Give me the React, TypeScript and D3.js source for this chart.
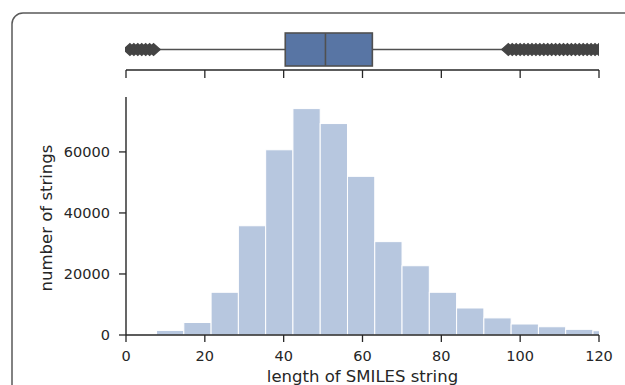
import { useMemo } from 'react';
import * as d3 from 'd3';

// histogram of SMILES string lengths (bin edges + counts)
const binEdges = [7.75, 14.67, 21.59, 28.51, 35.43, 42.35, 49.27, 56.19, 63.11, 70.03, 76.95, 83.87, 90.79, 97.71, 104.63, 111.55, 118.47, 125.39];
const binCounts = [1500, 4100, 14000, 35800, 60700, 74200, 69300, 52000, 30600, 22700, 14000, 8850, 5600, 3600, 2700, 1850, 1400];

const xTicks = [0, 20, 40, 60, 80, 100, 120];
const yTicks = [0, 20000, 40000, 60000];

// boxplot summary
const boxStats = { whiskerLow: 8, q1: 40.4, median: 50.6, q3: 62.5, whiskerHigh: 96 };
const lowOutliers = [1, 2, 3, 4, 5, 6, 7];
const highOutliers = [97, 98, 99, 100, 101, 102, 103, 104, 105, 106, 107, 108, 109, 110, 111, 112, 113, 114, 115, 116, 117, 118, 119, 120, 121, 122, 123, 124, 125];

const BAR_FILL = '#b7c7df';
const BOX_FILL = '#5875a4';
const LINE = '#505050';
const SPINE = '#262626';
const TEXT = '#262626';
const FONT = '"DejaVu Sans", sans-serif';

export default function App() {
  const width = 625;
  const height = 385;
  const left = 126;
  const right = 599;
  const histTop = 97;
  const histBottom = 335;

  const { x, y, bars } = useMemo(() => {
    const x = d3.scaleLinear().domain([0, 120]).range([left, right]);
    const y = d3.scaleLinear().domain([0, 78000]).range([histBottom, histTop]);
    const bars = binCounts.map((c, i) => ({
      x0: x(binEdges[i]),
      x1: x(binEdges[i + 1]),
      y: y(c),
      h: histBottom - y(c),
    }));
    return { x, y, bars };
  }, []);

  // boxplot geometry
  const boxCy = 49.5;
  const boxTop = 33;
  const boxBottom = 66;
  const boxAxisY = 70;
  const dh = 5.8;
  const dw = 6.5;
  const diamond = (cx: number) =>
    `M${cx},${boxCy - dh}L${cx + dw},${boxCy}L${cx},${boxCy + dh}L${cx - dw},${boxCy}Z`;

  return (
    <svg
      width={width}
      height={height}
      style={{ position: 'absolute', left: 0, top: 0, background: '#fff' }}
      fontFamily={FONT}
    >
      <defs>
        <clipPath id='plotClip'>
          <rect x={left - 1} y={0} width={right - left + 1} height={height} />
        </clipPath>
      </defs>

      {/* frame around the figure */}
      <rect x={12} y={13} width={700} height={500} rx={11} fill='none' stroke='#5a5a5a' strokeWidth={1.5} />

      {/* boxplot */}
      <g clipPath='url(#plotClip)'>
        <line x1={x(boxStats.whiskerLow)} x2={x(boxStats.q1)} y1={boxCy} y2={boxCy} stroke={LINE} strokeWidth={1.6} />
        <line x1={x(boxStats.q3)} x2={x(boxStats.whiskerHigh)} y1={boxCy} y2={boxCy} stroke={LINE} strokeWidth={1.6} />
        <rect
          x={x(boxStats.q1)}
          y={boxTop}
          width={x(boxStats.q3) - x(boxStats.q1)}
          height={boxBottom - boxTop}
          fill={BOX_FILL}
          stroke={LINE}
          strokeWidth={1.6}
        />
        <line x1={x(boxStats.median)} x2={x(boxStats.median)} y1={boxTop} y2={boxBottom} stroke={LINE} strokeWidth={1.6} />
        {[...lowOutliers, ...highOutliers].map((v) => (
          <path key={v} d={diamond(x(v))} fill='#444' stroke='#444' strokeWidth={1.4} />
        ))}
      </g>
      <line x1={left} x2={right} y1={boxAxisY} y2={boxAxisY} stroke={SPINE} strokeWidth={1.4} />
      {xTicks.map((t) => (
        <line key={t} x1={x(t)} x2={x(t)} y1={boxAxisY} y2={boxAxisY + 8} stroke={SPINE} strokeWidth={1.3} />
      ))}

      {/* histogram */}
      <g clipPath='url(#plotClip)'>
        {bars.map((b, i) => (
          <rect key={i} x={b.x0} y={b.y} width={b.x1 - b.x0} height={b.h} fill={BAR_FILL} stroke='#fff' strokeWidth={1} />
        ))}
      </g>

      <line x1={left} x2={left} y1={histTop} y2={histBottom} stroke={SPINE} strokeWidth={1.4} />
      <line x1={left} x2={right} y1={histBottom} y2={histBottom} stroke={SPINE} strokeWidth={1.4} />

      {yTicks.map((t) => (
        <g key={t}>
          <line x1={left - 7} x2={left} y1={y(t)} y2={y(t)} stroke={SPINE} strokeWidth={1.3} />
          <text x={left - 16} y={y(t)} dy='0.36em' textAnchor='end' fontSize={14.5} fill={TEXT}>
            {t}
          </text>
        </g>
      ))}
      {xTicks.map((t) => (
        <g key={t}>
          <line x1={x(t)} x2={x(t)} y1={histBottom} y2={histBottom + 7} stroke={SPINE} strokeWidth={1.3} />
          <text x={x(t)} y={360.5} textAnchor='middle' fontSize={14.5} fill={TEXT}>
            {t}
          </text>
        </g>
      ))}

      <text x={(left + right) / 2} y={382} textAnchor='middle' fontSize={16.5} fill={TEXT}>
        length of SMILES string
      </text>
      <text transform={`translate(51.5,218) rotate(-90)`} textAnchor='middle' fontSize={16.5} fill={TEXT}>
        number of strings
      </text>
    </svg>
  );
}
